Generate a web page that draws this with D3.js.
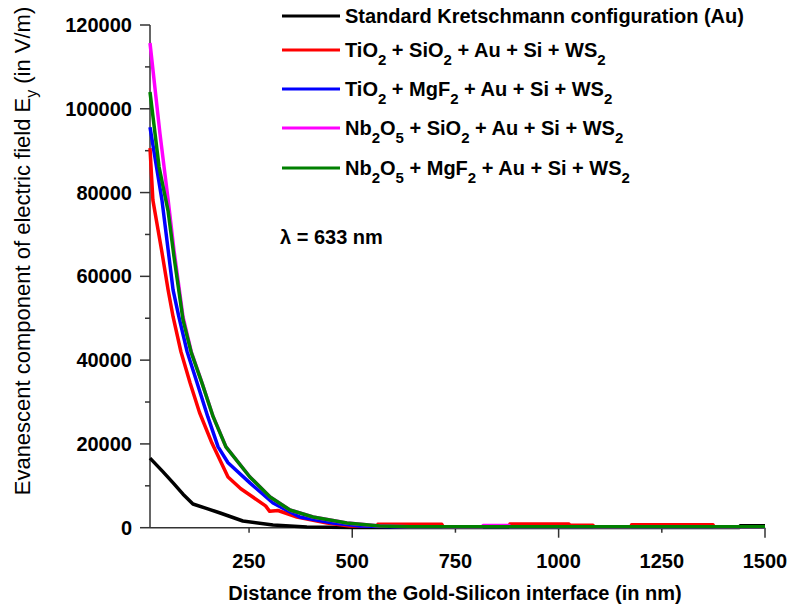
<!DOCTYPE html>
<html>
<head>
<meta charset="utf-8">
<script src="https://cdn.jsdelivr.net/npm/d3@7"></script>
<style>
  body { margin: 0; background: #fff; }
  svg { display: block; }
  text { font-family: "Liberation Sans", Arial, sans-serif; fill: #000; }
</style>
</head>
<body>
<svg id="chart" width="792" height="610"></svg>
<script>
// data: [distance (nm), Ey (V/m)]
const kretschmann = [[10,16600],[40,13500],[66,10700],[90,8000],[114,5660],[150,4500],[180,3510],[235,1600],[308,640],[390,150],[500,60],[1438,60],[1440,450],[1500,450]];
const tio2Sio2 = [[10,90600],[17,78200],[38,66300],[54,56700],[66,50300],[85,42000],[107,34600],[130,27500],[160,20200],[199,12100],[230,9300],[259,7330],[290,5200],[300,3900],[320,4100],[366,2550],[439,1120],[494,400],[560,350],[562,800],[717,800],[720,250],[880,250],[882,900],[1025,900],[1027,600],[1083,600],[1085,250],[1175,250],[1177,700],[1374,700],[1376,250],[1500,250]];
const tio2Mgf2 = [[10,95600],[39,78200],[66,56700],[80,50300],[100,42000],[124,34600],[150,26500],[175,19300],[199,15500],[252,10700],[308,5890],[373,2550],[453,1120],[519,400],[600,250],[1500,250]];
const nb2o5Sio2 = [[10,115700],[34,94200],[54,78200],[68,66300],[90,50300],[110,42000],[136,34600],[163,26500],[194,19300],[252,12100],[301,7330],[349,4220],[405,2550],[487,1120],[567,400],[640,250],[815,250],[817,500],[880,500],[882,250],[1500,250]];
const nb2o5Mgf2 = [[10,104000],[32,86100],[54,75500],[68,64800],[90,49600],[110,41800],[136,34500],[163,26500],[194,19300],[252,12100],[301,7330],[349,4220],[405,2550],[487,1120],[567,400],[640,250],[1500,250]];

const seriesLabels = [
  'Standard Kretschmann configuration (Au)',
  'TiO_2 + SiO_2 + Au + Si + WS_2',
  'TiO_2 + MgF_2 + Au + Si + WS_2',
  'Nb_2O_5 + SiO_2 + Au + Si + WS_2',
  'Nb_2O_5 + MgF_2 + Au + Si + WS_2'
];
const seriesColors = ['#000000', '#ff0000', '#0000ff', '#ff00ff', '#008000'];
const allSeries = [kretschmann, tio2Sio2, tio2Mgf2, nb2o5Sio2, nb2o5Mgf2];

const xTicks = [250, 500, 750, 1000, 1250, 1500];
const xMajor = [500, 1000, 1500];
const yTicks = [0, 20000, 40000, 60000, 80000, 100000, 120000];
const yMinor = [10000, 30000, 50000, 70000, 90000, 110000];

const svg = d3.select('#chart');

const x = d3.scaleLinear().domain([10, 1500]).range([150, 765]);
const y = d3.scaleLinear().domain([0, 120000]).range([527.7, 25]);

// axes
const axisColor = '#333';
svg.append('line').attr('x1', 150).attr('x2', 150).attr('y1', y(120000)).attr('y2', y(0))
  .attr('stroke', axisColor).attr('stroke-width', 1.5);
svg.append('line').attr('x1', 150).attr('x2', x(1500)).attr('y1', y(0)).attr('y2', y(0))
  .attr('stroke', axisColor).attr('stroke-width', 1.5);

// y ticks
yTicks.forEach(v => {
  svg.append('line').attr('x1', 140).attr('x2', 150).attr('y1', y(v)).attr('y2', y(v))
    .attr('stroke', axisColor).attr('stroke-width', 1.5);
  svg.append('text').attr('x', 132).attr('y', y(v) + 7)
    .attr('text-anchor', 'end').style('font-size', '20px').style('font-weight', 'bold')
    .text(v);
});
yMinor.forEach(v => {
  svg.append('line').attr('x1', 145).attr('x2', 150).attr('y1', y(v)).attr('y2', y(v))
    .attr('stroke', axisColor).attr('stroke-width', 1.5);
});

// x ticks
xTicks.forEach(v => {
  const len = xMajor.includes(v) ? 10 : 5;
  svg.append('line').attr('x1', x(v)).attr('x2', x(v)).attr('y1', y(0)).attr('y2', y(0) + len)
    .attr('stroke', axisColor).attr('stroke-width', 1.5);
  svg.append('text').attr('x', x(v)).attr('y', 568)
    .attr('text-anchor', 'middle').style('font-size', '20px').style('font-weight', 'bold')
    .text(v);
});

// lines
const line = d3.line().x(d => x(d[0])).y(d => y(d[1]));
allSeries.forEach((s, i) => {
  svg.append('path').datum(s).attr('d', line)
    .attr('fill', 'none').attr('stroke', seriesColors[i])
    .attr('stroke-width', 3.5).attr('stroke-linejoin', 'round');
});

// text with _n subscripts
function richText(sel, str, size, subSize) {
  const parts = str.split(/(_\d)/).filter(p => p.length);
  let lowered = false;
  parts.forEach(p => {
    if (p[0] === '_') {
      sel.append('tspan').attr('dy', 8).style('font-size', subSize + 'px').text(p.slice(1));
      lowered = true;
    } else {
      const t = sel.append('tspan').style('font-size', size + 'px').text(p);
      if (lowered) { t.attr('dy', -8); lowered = false; }
    }
  });
}

// legend
const legendY = [16, 50, 89, 128, 168];
seriesLabels.forEach((lab, i) => {
  svg.append('line').attr('x1', 282).attr('x2', 340).attr('y1', legendY[i]).attr('y2', legendY[i])
    .attr('stroke', seriesColors[i]).attr('stroke-width', 3);
  const t = svg.append('text').attr('x', 345).attr('y', legendY[i] + 7)
    .style('font-weight', 'bold').attr('xml:space', 'preserve');
  richText(t, lab, 20, 15);
});

// wavelength note
svg.append('text').attr('x', 280).attr('y', 244)
  .style('font-size', '20px').style('font-weight', 'bold')
  .text('\u03bb = 633 nm');

// axis titles
svg.append('text').attr('x', 455).attr('y', 600)
  .attr('text-anchor', 'middle').style('font-size', '20px').style('font-weight', 'bold')
  .text('Distance from the Gold-Silicon interface (in nm)');

const yTitle = svg.append('text')
  .attr('transform', 'translate(30,251) rotate(-90)')
  .attr('text-anchor', 'middle').attr('xml:space', 'preserve');
yTitle.append('tspan').style('font-size', '22px').text('Evanescent component of electric field E');
yTitle.append('tspan').attr('dy', 7).style('font-size', '16px').text('y');
yTitle.append('tspan').attr('dy', -7).style('font-size', '22px').text(' (in V/m)');
</script>
</body>
</html>
